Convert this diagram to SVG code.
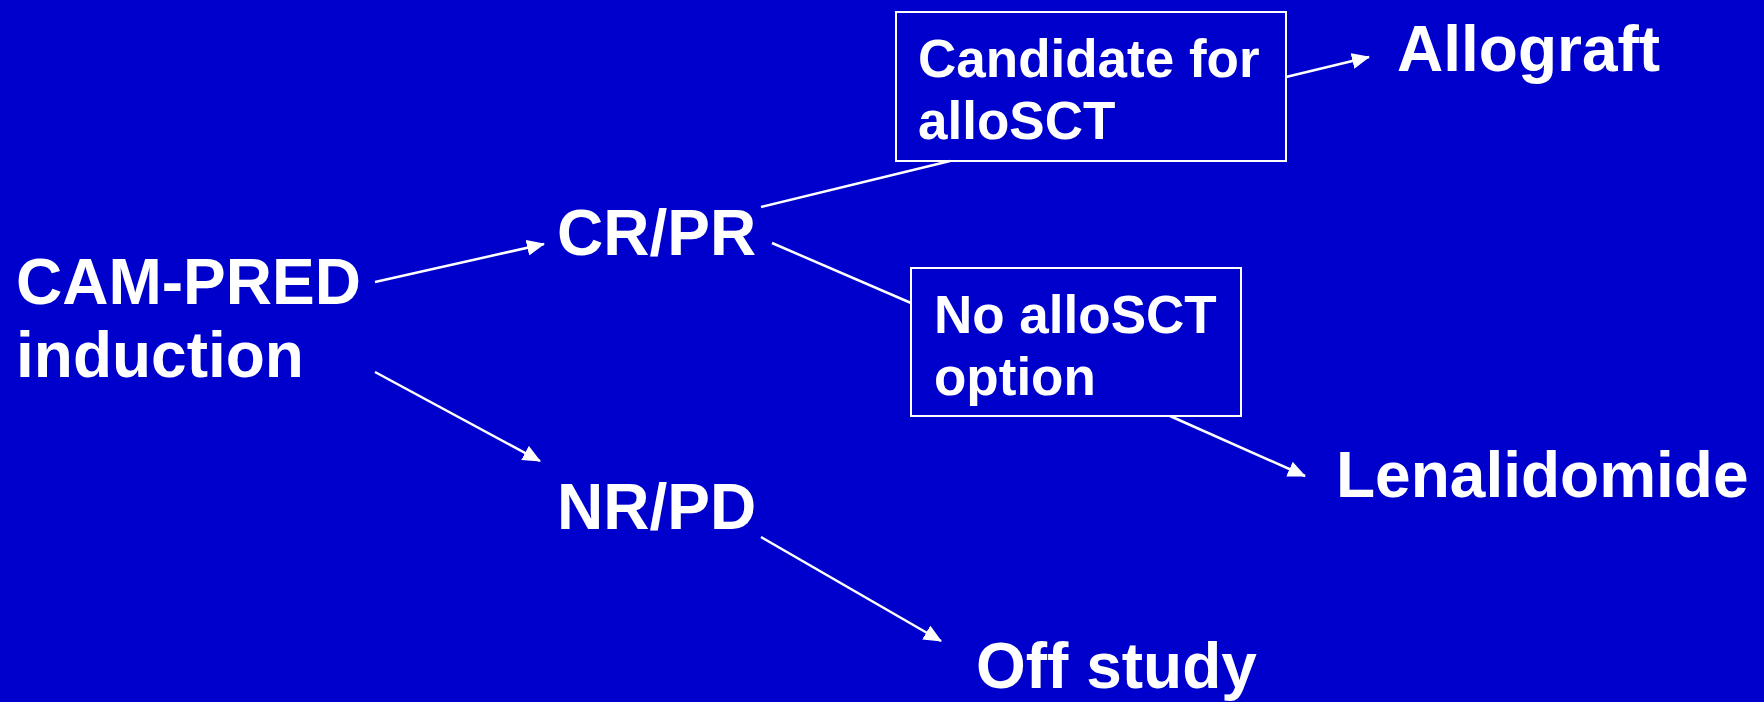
<svg xmlns="http://www.w3.org/2000/svg" width="1764" height="702" viewBox="0 0 1764 702">
<defs>
<marker id="ah" viewBox="0 0 18 16" refX="17" refY="8" markerWidth="18" markerHeight="16" markerUnits="userSpaceOnUse" orient="auto">
<path d="M0,0 L18,8 L0,16 Z" fill="#FFFFFF"/>
</marker>
</defs>
<style>
text{font-family:"Liberation Sans",Arial,sans-serif;font-weight:bold;fill:#FFFFFF}
.big{font-size:64px}
.sm{font-size:53px}
.box{fill:none;stroke:#FFFFFF;stroke-width:2}
.c{stroke:#FFFFFF;stroke-width:2.5;fill:none}
.a{marker-end:url(#ah)}
</style>
<rect x="0" y="0" width="1764" height="702" fill="#0000CC"/>
<g id="connectors">
<line class="c a" x1="375" y1="282" x2="544" y2="244"/>
<line class="c a" x1="375" y1="372" x2="540" y2="461"/>
<line class="c" x1="761" y1="207" x2="950" y2="161"/>
<line class="c" x1="772" y1="243" x2="911" y2="303"/>
<line class="c a" x1="1286" y1="77" x2="1369" y2="57"/>
<line class="c a" x1="1170" y1="416" x2="1305" y2="476"/>
<line class="c a" x1="761" y1="537" x2="941" y2="641"/>
</g>
<g id="cam-pred">
<text class="big" x="16" y="304">CAM-PRED</text>
<text class="big" x="16" y="377">induction</text>
</g>
<g id="crpr">
<text class="big" x="557" y="255">CR/PR</text>
</g>
<g id="nrpd">
<text class="big" x="557" y="529">NR/PD</text>
</g>
<g id="candidate">
<rect class="box" x="896" y="12" width="390" height="149"/>
<text class="sm" x="918" y="77">Candidate for</text>
<text class="sm" x="918" y="139">alloSCT</text>
</g>
<g id="noallo">
<rect class="box" x="911" y="268" width="330" height="148"/>
<text class="sm" x="934" y="333">No alloSCT</text>
<text class="sm" x="934" y="395">option</text>
</g>
<g id="allograft">
<text class="big" x="1397" y="71">Allograft</text>
</g>
<g id="lenalidomide">
<text class="big" x="1336" y="497">Lenalidomide</text>
</g>
<g id="offstudy">
<text class="big" x="976" y="688">Off study</text>
</g>
</svg>
